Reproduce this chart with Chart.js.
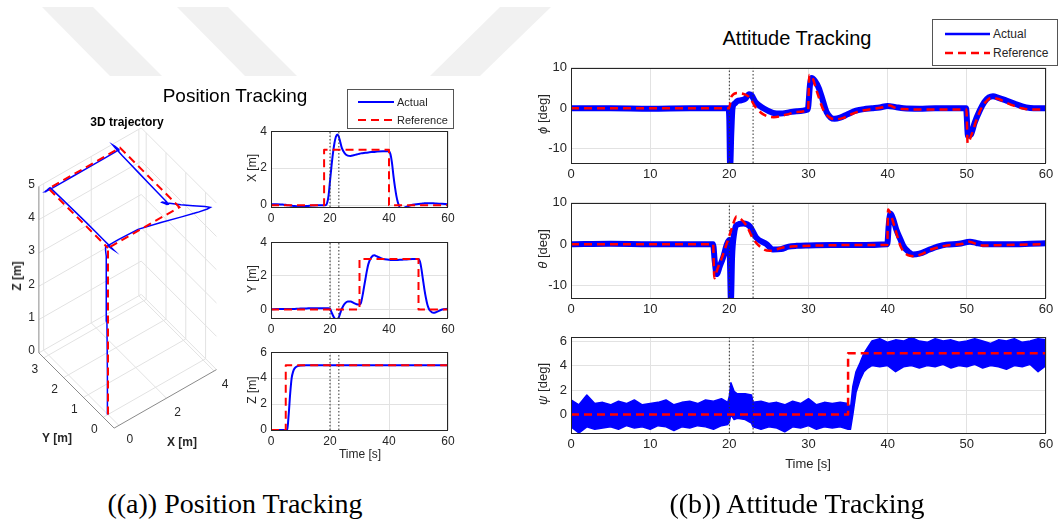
<!DOCTYPE html>
<html>
<head>
<meta charset="utf-8">
<script src="https://cdn.jsdelivr.net/npm/chart.js@4.4.1/dist/chart.umd.min.js"></script>
<style>
  body { margin: 0; background: #fff; }
  #page { position: relative; width: 1061px; height: 520px; overflow: hidden;
          font-family: "Liberation Sans", Arial, sans-serif; color: #262626; }
  canvas { position: absolute; }
  .txt { position: absolute; white-space: nowrap; transform: translate(-50%, -50%); }
  .ylab { position: absolute; white-space: nowrap; transform: translate(-50%, -50%) rotate(-90deg); }
  .legend { position: absolute; background: #fff; border: 1px solid #555; }
  .legend svg { position: absolute; }
  .legend span { position: absolute; white-space: nowrap; transform: translateY(-50%); }
  .caption { position: absolute; white-space: nowrap; transform: translateX(-50%);
             font-family: "Liberation Serif", "Times New Roman", serif; font-size: 28px;
             line-height: 28px; color: #000; }
</style>
</head>
<body>
<div id="page">
  <!-- faint watermark behind the figure -->
  <svg width="1061" height="520" style="position:absolute;left:0;top:0">
    <polygon points="42,7 93,7 162,76 110,76" fill="#f1f1f1"/>
    <polygon points="177,7 228,7 297,76 245,76" fill="#f1f1f1"/>
    <polygon points="500,7 551,7 480,76 430,76" fill="#f1f1f1"/>
  </svg>

  <canvas id="traj3d"></canvas>
  <canvas id="posX"></canvas>
  <canvas id="posY"></canvas>
  <canvas id="posZ"></canvas>
  <canvas id="attPhi"></canvas>
  <canvas id="attTheta"></canvas>
  <canvas id="attPsi"></canvas>

  <div class="txt" style="left:235px;top:96px;font-size:19px;color:#000">Position Tracking</div>
  <div class="txt" style="left:127px;top:122px;font-size:12px;font-weight:bold;color:#000">3D trajectory</div>
  <div class="ylab" style="left:17px;top:276px;font-size:12px;font-weight:bold">Z [m]</div>
  <div class="txt" style="left:57px;top:438px;font-size:12px;font-weight:bold">Y [m]</div>
  <div class="txt" style="left:182px;top:442px;font-size:12px;font-weight:bold">X [m]</div>

  <div class="ylab" style="left:252px;top:168px;font-size:12px">X [m]</div>
  <div class="ylab" style="left:252px;top:279px;font-size:12px">Y [m]</div>
  <div class="ylab" style="left:252px;top:390px;font-size:12px">Z [m]</div>
  <div class="txt" style="left:360px;top:454px;font-size:12px">Time [s]</div>

  <div class="legend" style="left:347px;top:89px;width:105px;height:38px">
    <svg width="36" height="4" style="left:10px;top:9.5px"><line x1="0" y1="2" x2="36" y2="2" stroke="#0000ff" stroke-width="2"/></svg>
    <span style="left:49px;top:11.5px;font-size:11px">Actual</span>
    <svg width="36" height="4" style="left:10px;top:27.5px"><line x1="0" y1="2" x2="36" y2="2" stroke="#ff0000" stroke-width="2" stroke-dasharray="8,5"/></svg>
    <span style="left:49px;top:29.5px;font-size:11px">Reference</span>
  </div>

  <div class="txt" style="left:797px;top:38px;font-size:20px;color:#000">Attitude Tracking</div>
  <div class="ylab" style="left:542px;top:114px;font-size:13px"><i>&#981;</i> [deg]</div>
  <div class="ylab" style="left:542px;top:249px;font-size:13px"><i>&#952;</i> [deg]</div>
  <div class="ylab" style="left:542px;top:384px;font-size:13px"><i>&#968;</i> [deg]</div>
  <div class="txt" style="left:808px;top:463px;font-size:13px">Time [s]</div>

  <div class="legend" style="left:932px;top:19px;width:124px;height:45px">
    <svg width="45" height="4" style="left:12px;top:11.5px"><line x1="0" y1="2" x2="45" y2="2" stroke="#0000ff" stroke-width="2.5"/></svg>
    <span style="left:60px;top:13.5px;font-size:12px">Actual</span>
    <svg width="45" height="4" style="left:12px;top:31px"><line x1="0" y1="2" x2="45" y2="2" stroke="#ff0000" stroke-width="2.5" stroke-dasharray="8,5"/></svg>
    <span style="left:60px;top:33px;font-size:12px">Reference</span>
  </div>

  <div class="caption" style="left:235px;top:490px">((a)) Position Tracking</div>
  <div class="caption" style="left:797px;top:490px">((b)) Attitude Tracking</div>
</div>

<script>
// ---- position data (shared time grid, also used for the 3D path) ----
const tPos = [0, 2, 4, 5, 5.5, 6, 6.5, 7, 7.5, 8, 9, 10, 12, 14, 16,
              18, 18.5, 19, 19.5, 20, 20.5, 21, 21.5, 22, 22.5, 23, 23.5, 24, 25, 26, 27, 28, 29, 30,
              30.5, 31, 31.5, 32, 32.5, 33, 34, 35, 36, 38, 40,
              40.5, 41, 41.5, 42, 42.5, 43, 44, 45, 46, 48, 50,
              50.5, 51, 51.5, 52, 52.5, 53, 53.5, 54, 55, 56, 58, 60];
const xAct = [0.05, 0.05, 0.03, 0.02, 0.0, 0.0, -0.02, -0.03, -0.04, -0.05, -0.06, -0.06, -0.05, -0.02, 0.0,
              0.0, 0.0, 0.1, 0.5, 1.3, 2.1, 2.8, 3.35, 3.7, 3.82, 3.7, 3.4, 3.1, 2.8, 2.68, 2.66, 2.7, 2.74, 2.78,
              2.8, 2.81, 2.82, 2.83, 2.84, 2.85, 2.87, 2.88, 2.9, 2.92, 2.92,
              2.75, 2.3, 1.6, 1.0, 0.5, 0.15, -0.18, -0.15, -0.08, 0.02, 0.06,
              0.07, 0.08, 0.09, 0.1, 0.1, 0.1, 0.1, 0.1, 0.1, 0.09, 0.07, 0.05];
const yAct = [0.02, 0.03, 0.03, 0.03, 0.03, 0.03, 0.03, 0.04, 0.04, 0.04, 0.05, 0.06, 0.07, 0.08, 0.08,
              0.08, 0.08, 0.08, 0.08, 0.05, -0.15, -0.35, -0.5, -0.57, -0.57, -0.45, -0.2, 0.05, 0.35, 0.48, 0.48, 0.4, 0.32, 0.3,
              0.4, 0.8, 1.3, 1.8, 2.3, 2.7, 3.1, 3.22, 3.15, 3.0, 2.96,
              2.95, 2.95, 2.95, 2.95, 2.95, 2.95, 2.96, 2.97, 2.98, 3.0, 3.0,
              2.85, 2.4, 1.8, 1.2, 0.7, 0.3, 0.05, -0.08, -0.19, -0.15, 0.0, 0.05];
const zAct = [0, 0, 0, 0, 0.05, 1.2, 2.8, 4.0, 4.5, 4.75, 4.92, 4.98, 5.0, 5.0, 5.0,
              5, 5, 5, 5, 5, 5, 5, 5, 5, 5, 5, 5, 5, 5, 5, 5, 5, 5, 5,
              5, 5, 5, 5, 5, 5, 5, 5, 5, 5, 5,
              5, 5, 5, 5, 5, 5, 5, 5, 5, 5, 5,
              5, 5, 5, 5, 5, 5, 5, 5, 5, 5, 5, 5];

// reference set-points (value holds from each time on)
const tPosRef = [0, 5, 18, 30, 40, 50, 60];
const xRef = [0, 0, 3, 3, 0, 0, 0];
const yRef = [0, 0, 0, 3, 3, 0, 0];
const zRef = [0, 5, 5, 5, 5, 5, 5];

// ---- attitude data ----
const tPhiAct = [0, 5, 10, 15, 19.9, 20.0, 20.1, 20.25, 20.4, 20.7, 21, 21.5, 22, 22.5, 22.8,
                 23.3, 24.3, 25.5, 26.5, 27.5, 28.5, 29.9, 30.2, 30.4, 30.8, 31.3, 31.8, 32.3, 32.8, 33.3,
                 34, 35, 36, 37, 38, 39, 40, 41, 42, 44, 46, 48, 49.9, 50.15, 50.5,
                 51, 51.6, 52.2, 52.8, 53.3, 54, 55, 56, 57, 58, 59, 60];
const phiAct = [0, 0, -0.1, 0, 0, -3, -14.5, -6, 0, 1.2, 1.8, 2.0, 2.3, 3.5, 3.2,
                1.5, 0, -1.1, -1.3, -1.0, -0.7, -0.3, 6, 7.5, 6.8, 5.0, 2.0, -1.0, -2.3, -2.6,
                -2.3, -1.4, -0.6, -0.2, 0, 0.2, 0.6, 0.3, 0, -0.1, 0, 0, 0, -6.8, -6.5,
                -3.5, -0.7, 1.5, 2.7, 3.0, 2.6, 1.9, 1.2, 0.5, 0.1, 0, 0];
const tPhiRef = [0, 19.95, 20.3, 21, 22, 22.6, 23.2, 24.3, 25.6, 27.3, 28.5, 29.95, 30.1, 30.5, 31,
                 31.9, 32.7, 33.5, 34.5, 35.5, 36.5, 38, 39.5, 40.2, 41, 42, 45, 49.95, 50.1, 50.6,
                 51.2, 51.9, 52.5, 53.1, 54, 55, 56, 57, 58, 60];
const phiRef = [0, 0, 3.0, 3.8, 3.4, 2.6, 0.6, -1.5, -2.2, -1.5, -0.9, -0.4, 8.2, 7.6, 4.5,
                -0.5, -2.3, -2.7, -2.3, -1.4, -0.7, -0.2, 0.3, 0.7, 0.1, -0.2, -0.3, -0.3, -8.6, -6.5,
                -3.0, 0.3, 1.8, 2.6, 2.3, 1.4, 0.6, 0.0, -0.3, -0.3];

const tThAct = [0, 5, 10, 15, 17.95, 18.15, 18.4, 18.8, 19.2, 19.7, 20.0, 20.1, 20.2, 20.35, 20.6,
                20.9, 21.8, 22.6, 23.4, 24.7, 25.5, 26.5, 27.5, 28.5, 30, 33, 36, 39.95, 40.15, 40.35,
                40.7, 41.1, 41.6, 42.0, 42.6, 43.2, 44, 45.3, 46.3, 47.4, 49, 50.4, 51.2, 52, 55, 58, 60];
const thAct = [0, 0.1, 0, 0, 0, -4, -7.2, -5.3, -3.3, 0, 1.0, -6, -13.5, -3, 2.5,
               4.6, 5.0, 4.3, 1.6, 0, -1.3, -1.2, -0.6, -0.4, -0.3, -0.2, -0.2, 0, 5, 7.4,
               6, 3.5, 1.2, -0.5, -1.8, -2.5, -2.3, -1.3, -0.6, -0.1, 0.1, 0.6, 0.3, 0, 0, 0.1, 0.2];
const tThRef = [0, 17.95, 18.1, 18.5, 19.0, 19.5, 20.0, 20.5, 20.9, 21.5, 22.2, 23.0, 24.3, 25.1, 26.8,
                28.5, 32, 36, 39.95, 40.05, 40.5, 40.9, 41.7, 42.8, 43.4, 44.3, 45.3, 46.5, 47.5, 49.5,
                50.3, 51, 52, 55, 60];
const thRef = [0, 0, -8.2, -6.0, -3.6, -0.8, 2.0, 5.0, 6.7, 6.0, 4.4, 1.3, -1.2, -1.6, -0.8,
               -0.5, -0.3, -0.2, -0.2, 8.4, 6.5, 4.0, -0.8, -2.8, -2.9, -2.4, -1.4, -0.7, -0.3, 0.1,
               0.6, 0.2, -0.3, -0.2, 0];

// psi: the noisy actual signal is kept as its upper / lower envelope
const tPsi = [0, 1, 2, 3, 4, 5, 6, 7, 8, 9, 10, 11, 12, 13, 14, 15, 16, 17, 18, 19,
              19.8, 20, 20.2, 20.6, 21, 22, 22.8,
              23, 24, 25, 26, 27, 28, 29, 30, 31, 32, 33, 34, 35,
              35.3, 35.6, 36, 36.5, 37, 37.5,
              38, 39, 40, 41, 42, 43, 44, 45, 46, 47, 48, 49, 50, 51, 52, 53, 54, 55, 56, 57, 58, 59, 60];
const psiHi = [1.2, 0.8, 1.6, 0.9, 1.0, 0.8, 1.1, 0.9, 1.2, 0.8, 0.9, 1.0, 1.2, 0.8, 1.0, 1.1, 0.9, 1.2, 1.1, 1.3,
               1.0, 1.5, 2.6, 1.9, 1.7, 1.7, 1.6,
               1.0, 1.1, 0.9, 1.0, 0.8, 1.1, 0.9, 1.3, 0.8, 1.0, 0.9, 1.0, 0.9,
               0.5, 2.3, 3.5, 4.2, 5.0, 5.5,
               6.0, 6.2, 5.9, 6.1, 6.0, 6.3, 6.0, 5.9, 6.2, 6.0, 6.1, 5.9, 6.0, 6.2, 6.0, 5.8, 6.1, 6.0, 6.2, 5.9, 6.0, 6.2, 6.1];
const psiLo = [-1.0, -1.5, -1.0, -1.2, -1.1, -1.0, -1.2, -0.9, -1.1, -1.0, -1.2, -0.9, -1.0, -1.3, -1.0, -1.1, -0.9, -1.0, -1.2, -0.9,
               -0.8, -0.6, 0.0, -0.4, -0.3, -0.4, -0.7,
               -1.0, -1.2, -1.0, -1.1, -1.4, -1.0, -1.1, -0.9, -1.2, -1.0, -1.1, -1.0, -1.2,
               -1.2, 0.0, 1.8, 2.8, 3.5, 3.8,
               4.0, 3.9, 4.0, 3.5, 3.9, 4.0, 3.8, 4.0, 3.9, 4.1, 3.8, 4.0, 3.9, 4.1, 3.8, 4.0, 3.9, 3.7, 4.0, 3.9, 4.1, 3.5, 4.0];
const tPsiRef = [0, 35, 60];
const psiRef = [0, 5, 5];

// switching instants (dotted lines)
const eventTimes = [20, 23];

// ticks
const posTimeTicks = [0, 20, 40, 60];
const attTimeTicks = [0, 10, 20, 30, 40, 50, 60];
const xTicks = [0, 2, 4];
const yTicks = [0, 2, 4];
const zTicks = [0, 2, 4, 6];
const phiTicks = [-10, 0, 10];
const thTicks = [-10, 0, 10];
const psiTicks = [0, 2, 4, 6];

// 3D axes
const lim3X = [-0.2, 4.1], lim3Y = [-0.55, 3.25], lim3Z = [0, 5];
const ticks3X = [0, 2, 4], ticks3Y = [0, 1, 2, 3], ticks3Z = [0, 1, 2, 3, 4, 5];

const BLUE = '#0000ff', RED = '#ff0000', INK = '#262626', GRID = '#e2e2e2';
const FONT = '"Liberation Sans", Arial, sans-serif';
Chart.defaults.font.family = FONT;

function pts(xs, ys) {
  return xs.map((x, i) => ({ x: x, y: ys[i] }));
}

const framePlugin = {
  id: 'frame',
  afterDatasetsDraw(chart) {
    const a = chart.chartArea, ctx = chart.ctx;
    ctx.save();
    ctx.strokeStyle = INK;
    ctx.lineWidth = 1;
    ctx.strokeRect(Math.round(a.left) + 0.5, Math.round(a.top) + 0.5,
                   Math.round(a.right - a.left) - 1, Math.round(a.bottom - a.top));
    ctx.restore();
  }
};

function eventSets(yRange) {
  return eventTimes.map(t => ({
    data: [{ x: t, y: yRange[0] }, { x: t, y: yRange[1] }],
    borderColor: '#333', borderWidth: 1, borderDash: [1.5, 2], clip: 0
  }));
}

function makePlot(id, box, yRange, yTickVals, xTickVals, fontSize, datasets) {
  const yW = 40, xH = 24, padT = 10, padR = 14;
  const cv = document.getElementById(id);
  cv.width = box.r - box.l + yW + padR;
  cv.height = box.b - box.t + padT + xH;
  cv.style.left = (box.l - yW) + 'px';
  cv.style.top = (box.t - padT) + 'px';
  const tickFont = { size: fontSize, family: FONT };
  return new Chart(cv, {
    type: 'line',
    data: { datasets: datasets },
    options: {
      responsive: false, animation: false, devicePixelRatio: 1, events: [],
      layout: { padding: { top: padT, right: padR, left: 0, bottom: 0 } },
      plugins: { legend: { display: false }, tooltip: { enabled: false } },
      elements: { point: { radius: 0 }, line: { borderJoinStyle: 'round' } },
      scales: {
        x: {
          type: 'linear', min: 0, max: 60,
          afterBuildTicks: s => { s.ticks = xTickVals.map(v => ({ value: v })); },
          afterFit: s => { s.height = xH; },
          grid: { color: GRID, drawTicks: false },
          border: { display: false },
          ticks: { color: INK, font: tickFont, padding: 4, maxRotation: 0, autoSkip: false }
        },
        y: {
          type: 'linear', min: yRange[0], max: yRange[1],
          afterBuildTicks: s => { s.ticks = yTickVals.map(v => ({ value: v })); },
          afterFit: s => { s.width = yW; },
          grid: { color: GRID, drawTicks: false },
          border: { display: false },
          ticks: { color: INK, font: tickFont, padding: 4, autoSkip: false }
        }
      }
    },
    plugins: [framePlugin]
  });
}

function refSet(t, v, w) {
  return { data: pts(t, v), borderColor: RED, borderWidth: w, borderDash: [8, 5], stepped: 'before', clip: 0 };
}
function refSmooth(t, v) {
  return { data: pts(t, v), borderColor: RED, borderWidth: 2.5, borderDash: [8, 5],
           cubicInterpolationMode: 'monotone', clip: 0 };
}
function actSet(t, v, w) {
  return { data: pts(t, v), borderColor: BLUE, borderWidth: w, cubicInterpolationMode: 'monotone', clip: 0 };
}

// ---- position subplots ----
const rPosX = [-0.1, 4], rPosY = [-0.5, 4], rPosZ = [0, 6];
makePlot('posX', { l: 271, t: 130, r: 448, b: 207 }, rPosX, xTicks, posTimeTicks, 12,
  [refSet(tPosRef, xRef, 2)].concat(eventSets(rPosX), [actSet(tPos, xAct, 2)]));
makePlot('posY', { l: 271, t: 241, r: 448, b: 318 }, rPosY, yTicks, posTimeTicks, 12,
  [refSet(tPosRef, yRef, 2)].concat(eventSets(rPosY), [actSet(tPos, yAct, 2)]));
makePlot('posZ', { l: 271, t: 351, r: 448, b: 430 }, rPosZ, zTicks, posTimeTicks, 12,
  [refSet(tPosRef, zRef, 2)].concat(eventSets(rPosZ), [actSet(tPos, zAct, 2)]));

// ---- attitude subplots ----
const rPhi = [-13.5, 10], rTh = [-13, 10], rPsi = [-1.5, 6.35];
makePlot('attPhi', { l: 571, t: 66, r: 1046, b: 163 }, rPhi, phiTicks, attTimeTicks, 13,
  [refSmooth(tPhiRef, phiRef)].concat(eventSets(rPhi), [actSet(tPhiAct, phiAct, 6)]));
makePlot('attTheta', { l: 571, t: 201, r: 1046, b: 298 }, rTh, thTicks, attTimeTicks, 13,
  [refSmooth(tThRef, thRef)].concat(eventSets(rTh), [actSet(tThAct, thAct, 6)]));
makePlot('attPsi', { l: 571, t: 335, r: 1046, b: 433 }, rPsi, psiTicks, attTimeTicks, 13,
  [refSet(tPsiRef, psiRef, 2.5)].concat(eventSets(rPsi), [
    { data: pts(tPsi, psiHi), borderColor: BLUE, borderWidth: 1.5, backgroundColor: BLUE, fill: '+1', clip: 0 },
    { data: pts(tPsi, psiLo), borderColor: BLUE, borderWidth: 1.5, fill: false, clip: 0 }
  ]));

// ---- 3D trajectory (oblique projection onto page pixels) ----
const P3 = { ox: 108, oy: 414.5, ex: [23.8, -13.6], ey: [-19.8, -19.8], ez: -33.3 };
function proj(x, y, z) {
  return { x: P3.ox + x * P3.ex[0] + y * P3.ey[0],
           y: P3.oy + x * P3.ex[1] + y * P3.ey[1] + z * P3.ez };
}
function seg(a, b, color) {
  return { data: [proj(a[0], a[1], a[2]), proj(b[0], b[1], b[2])],
           borderColor: color, borderWidth: 1, showLine: true, pointRadius: 0 };
}

const gridSets = [];
const [x0, x1] = lim3X, [y0, y1] = lim3Y, [z0, z1] = lim3Z;
ticks3X.forEach(x => gridSets.push(seg([x, y1, z0], [x, y1, z1], GRID)));
ticks3Z.forEach(z => gridSets.push(seg([x0, y1, z], [x1, y1, z], GRID)));
ticks3Y.forEach(y => gridSets.push(seg([x1, y, z0], [x1, y, z1], GRID)));
ticks3Z.forEach(z => gridSets.push(seg([x1, y0, z], [x1, y1, z], GRID)));
ticks3X.forEach(x => gridSets.push(seg([x, y0, z0], [x, y1, z0], GRID)));
ticks3Y.forEach(y => gridSets.push(seg([x0, y, z0], [x1, y, z0], GRID)));
const axisSets = [
  seg([x0, y1, z0], [x0, y1, z1], '#8a8a8a'),
  seg([x0, y0, z0], [x0, y1, z0], '#8a8a8a'),
  seg([x0, y0, z0], [x1, y0, z0], '#8a8a8a')
];

const refPath = tPosRef.map((t, i) => proj(xRef[i], yRef[i], zRef[i]));
const actPath = tPos.map((t, i) => proj(xAct[i], yAct[i], zAct[i]));

const axes3dText = {
  id: 'axes3dText',
  afterDraw(chart) {
    const ctx = chart.ctx, sx = chart.scales.x, sy = chart.scales.y;
    const at = p => [sx.getPixelForValue(p.x), sy.getPixelForValue(p.y)];
    ctx.save();
    ctx.fillStyle = INK;
    ctx.font = '12px ' + FONT;
    ctx.textBaseline = 'middle';
    ctx.textAlign = 'right';
    ticks3Z.forEach(z => { const [px, py] = at(proj(x0, y1, z)); ctx.fillText(String(z), px - 4, py - 2); });
    ctx.textAlign = 'center';
    ticks3Y.forEach(y => { const [px, py] = at(proj(x0, y, z0)); ctx.fillText(String(y), px - 9, py + 12); });
    ticks3X.forEach(x => { const [px, py] = at(proj(x, y0, z0)); ctx.fillText(String(x), px + 11, py + 14); });
    ctx.restore();
  }
};

(function () {
  const cv = document.getElementById('traj3d');
  cv.width = 240; cv.height = 360;
  cv.style.left = '0px'; cv.style.top = '100px';
  new Chart(cv, {
    type: 'scatter',
    data: {
      datasets: [
        { data: refPath, borderColor: RED, borderWidth: 2, borderDash: [8, 5], showLine: true, pointRadius: 0 },
        { data: actPath, borderColor: BLUE, borderWidth: 1.5, showLine: true, pointRadius: 0 }
      ].concat(axisSets, gridSets)
    },
    options: {
      responsive: false, animation: false, devicePixelRatio: 1, events: [],
      layout: { padding: 0 },
      plugins: { legend: { display: false }, tooltip: { enabled: false } },
      datasets: { scatter: { clip: false } },
      scales: {
        x: { type: 'linear', display: false, min: 0, max: 240 },
        y: { type: 'linear', display: false, min: 100, max: 460, reverse: true }
      }
    },
    plugins: [axes3dText]
  });
})();
</script>
</body>
</html>
